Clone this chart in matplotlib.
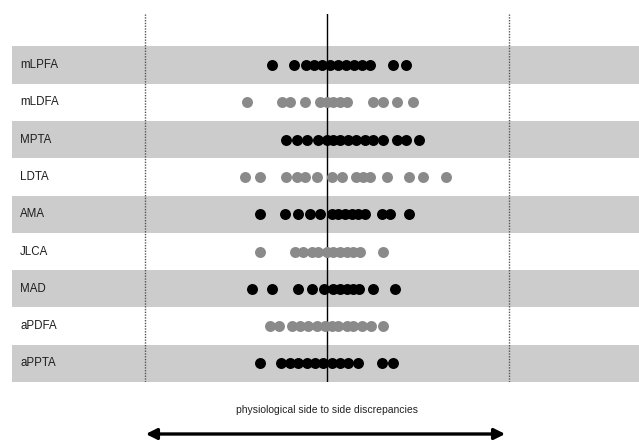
import matplotlib
matplotlib.use("Agg")
import matplotlib.pyplot as plt

# parameters, top to bottom
labels = ["mLPFA", "mLDFA", "MPTA", "LDTA", "AMA", "JLCA", "MAD", "aPDFA", "aPPTA"]
dot_colors = ["black", "gray", "black", "gray", "black", "gray", "black", "gray", "black"]

# side-to-side differences (center line = 0, dotted limits = +/-5)
mLPFA = [-1.51, -0.9, -0.58, -0.36, -0.14, 0.08, 0.3, 0.52, 0.74, 0.96, 1.18, 1.81, 2.16]
mLDFA = [-2.2, -1.24, -1.01, -0.6, -0.19, 0.0, 0.16, 0.36, 0.54, 1.26, 1.53, 1.91, 2.36]
MPTA = [-1.12, -0.83, -0.56, -0.24, -0.01, 0.17, 0.36, 0.58, 0.81, 1.04, 1.27, 1.54, 1.91, 2.18, 2.53]
LDTA = [-2.25, -1.85, -1.12, -0.83, -0.6, -0.27, 0.13, 0.4, 0.81, 1.0, 1.18, 1.64, 2.25, 2.64, 3.26]
AMA = [-1.85, -1.15, -0.79, -0.47, -0.19, 0.13, 0.31, 0.49, 0.68, 0.86, 1.04, 1.5, 1.73, 2.25]
JLCA = [-1.85, -0.88, -0.65, -0.42, -0.24, -0.01, 0.17, 0.36, 0.54, 0.72, 0.9, 1.53]
MAD = [-2.06, -1.51, -0.8, -0.42, -0.08, 0.17, 0.36, 0.54, 0.72, 0.88, 1.27, 1.86]
aPDFA = [-1.56, -1.33, -0.97, -0.74, -0.51, -0.28, -0.05, 0.13, 0.31, 0.54, 0.72, 0.95, 1.2, 1.53]
aPPTA = [-1.85, -1.27, -1.01, -0.79, -0.56, -0.33, -0.1, 0.13, 0.36, 0.58, 0.86, 1.5, 1.82]
values = [mLPFA, mLDFA, MPTA, LDTA, AMA, JLCA, MAD, aPDFA, aPPTA]

limit = 5

plt.rcParams["font.family"] = ["Liberation Sans", "DejaVu Sans"]

fig = plt.figure(figsize=(6.39, 4.4), dpi=100)
ax = fig.add_axes([12 / 639, 58 / 440, 627 / 639, 368 / 440])

n = len(labels)
for i, (lab, vals, col) in enumerate(zip(labels, values, dot_colors)):
    y = n - 1 - i
    if i % 2 == 0:
        ax.axhspan(y - 0.5, y + 0.5, color="#cccccc", lw=0, zorder=0)
    ax.text(-8.43, y, lab, fontsize=8.3, color="#1e1e1e", va="center", ha="left")
    c = "black" if col == "black" else "#8a8a8a"
    ax.plot(vals, [y] * len(vals), "o", color=c, markersize=7.9,
            markeredgewidth=0, zorder=3)

ax.axvline(0, color="black", lw=1.0, zorder=2)
ax.axvline(-limit, color="#555555", lw=1.0, ls=(0, (1, 1)), zorder=2)
ax.axvline(limit, color="#555555", lw=1.0, ls=(0, (1, 1)), zorder=2)

ax.set_xlim(-8.65, 8.57)
ax.set_ylim(-0.5, 9.37)
ax.axis("off")

# caption and double arrow below
fig.text(327 / 639, 1 - 410 / 440, "physiological side to side discrepancies",
         fontsize=7.5, color="#222222", ha="center", va="center")
fig.add_artist(matplotlib.patches.FancyArrowPatch(
    (143 / 639, 1 - 434 / 440), (508 / 639, 1 - 434 / 440),
    transform=fig.transFigure, arrowstyle="<|-|>", mutation_scale=16,
    lw=2.4, color="black"))

fig.savefig("out.png", dpi=100)
